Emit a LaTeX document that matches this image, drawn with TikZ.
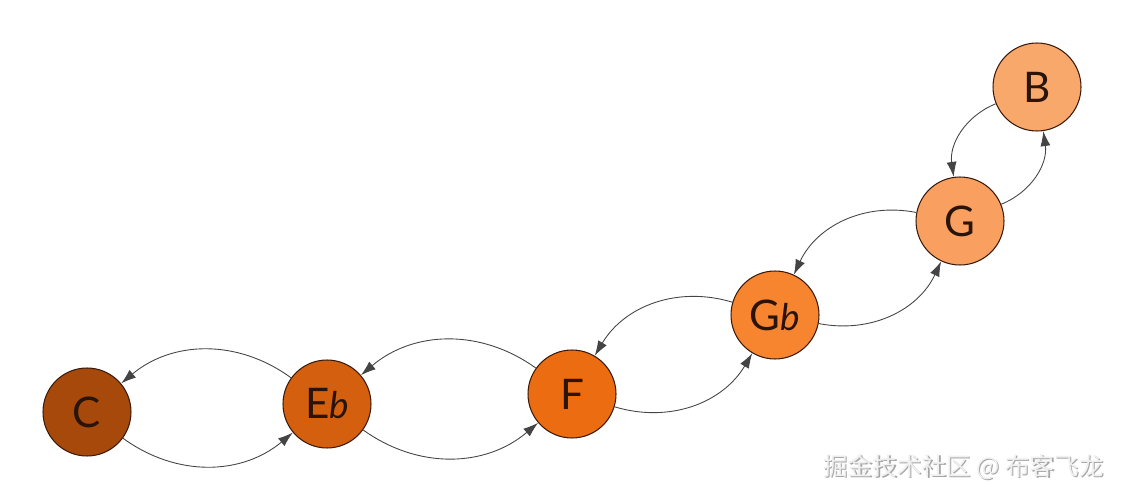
\documentclass[tikz,border=0pt]{standalone}
\usepackage{fontspec}
\setmainfont{Lato}
\newfontfamily\cjk{Noto Sans CJK SC}
\usetikzlibrary{arrows.meta}
\definecolor{cC}{HTML}{A6490A}
\definecolor{cEb}{HTML}{D45F0E}
\definecolor{cF}{HTML}{EC6C12}
\definecolor{cGb}{HTML}{F7852F}
\definecolor{cG}{HTML}{F9A060}
\definecolor{cB}{HTML}{F9A86C}
\definecolor{rim}{HTML}{3A1A0A}
\definecolor{lbl}{HTML}{2A140A}
\definecolor{edgec}{HTML}{444444}
\tikzset{
  note/.style={circle, draw=rim, line width=0.6pt, minimum size=1.76cm, inner sep=0pt,
    text=lbl, font=\fontsize{24}{28}\selectfont},
  link/.style={draw=edgec, line width=0.5pt, -{Latex[length=3mm,width=2mm]}, bend right=38}
}
\newcommand{\flt}{{\itshape\fontsize{21}{26}\selectfont b}}
\begin{document}
\begin{tikzpicture}[x=0.02cm,y=-0.02cm]
\useasboundingbox (0,0) rectangle (1125,500);
\node[note, fill=cC]  (C)  at (87,412)  {C};
\node[note, fill=cEb] (Eb) at (327,404) {E\flt};
\node[note, fill=cF]  (F)  at (572,394) {F};
\node[note, fill=cGb] (Gb) at (775,315) {G\flt};
\node[note, fill=cG]  (G)  at (960,221) {G};
\node[note, fill=cB]  (B)  at (1037,87) {B};
\draw[link] (C) to (Eb);
\draw[link] (Eb) to (C);
\draw[link] (Eb) to (F);
\draw[link] (F) to (Eb);
\draw[link] (F) to (Gb);
\draw[link] (Gb) to (F);
\draw[link] (Gb) to (G);
\draw[link] (G) to (Gb);
\draw[link] (G) to (B);
\draw[link] (B) to (G);
\node[font=\cjk\fontsize{14}{16}\selectfont, text=gray!70] (wms) at (965,468.5) {掘金技术社区 @ 布客飞龙};
\node[font=\cjk\fontsize{14}{16}\selectfont, text=white!94!black] (wm) at (963.5,467) {掘金技术社区 @ 布客飞龙};
\end{tikzpicture}
\end{document}
